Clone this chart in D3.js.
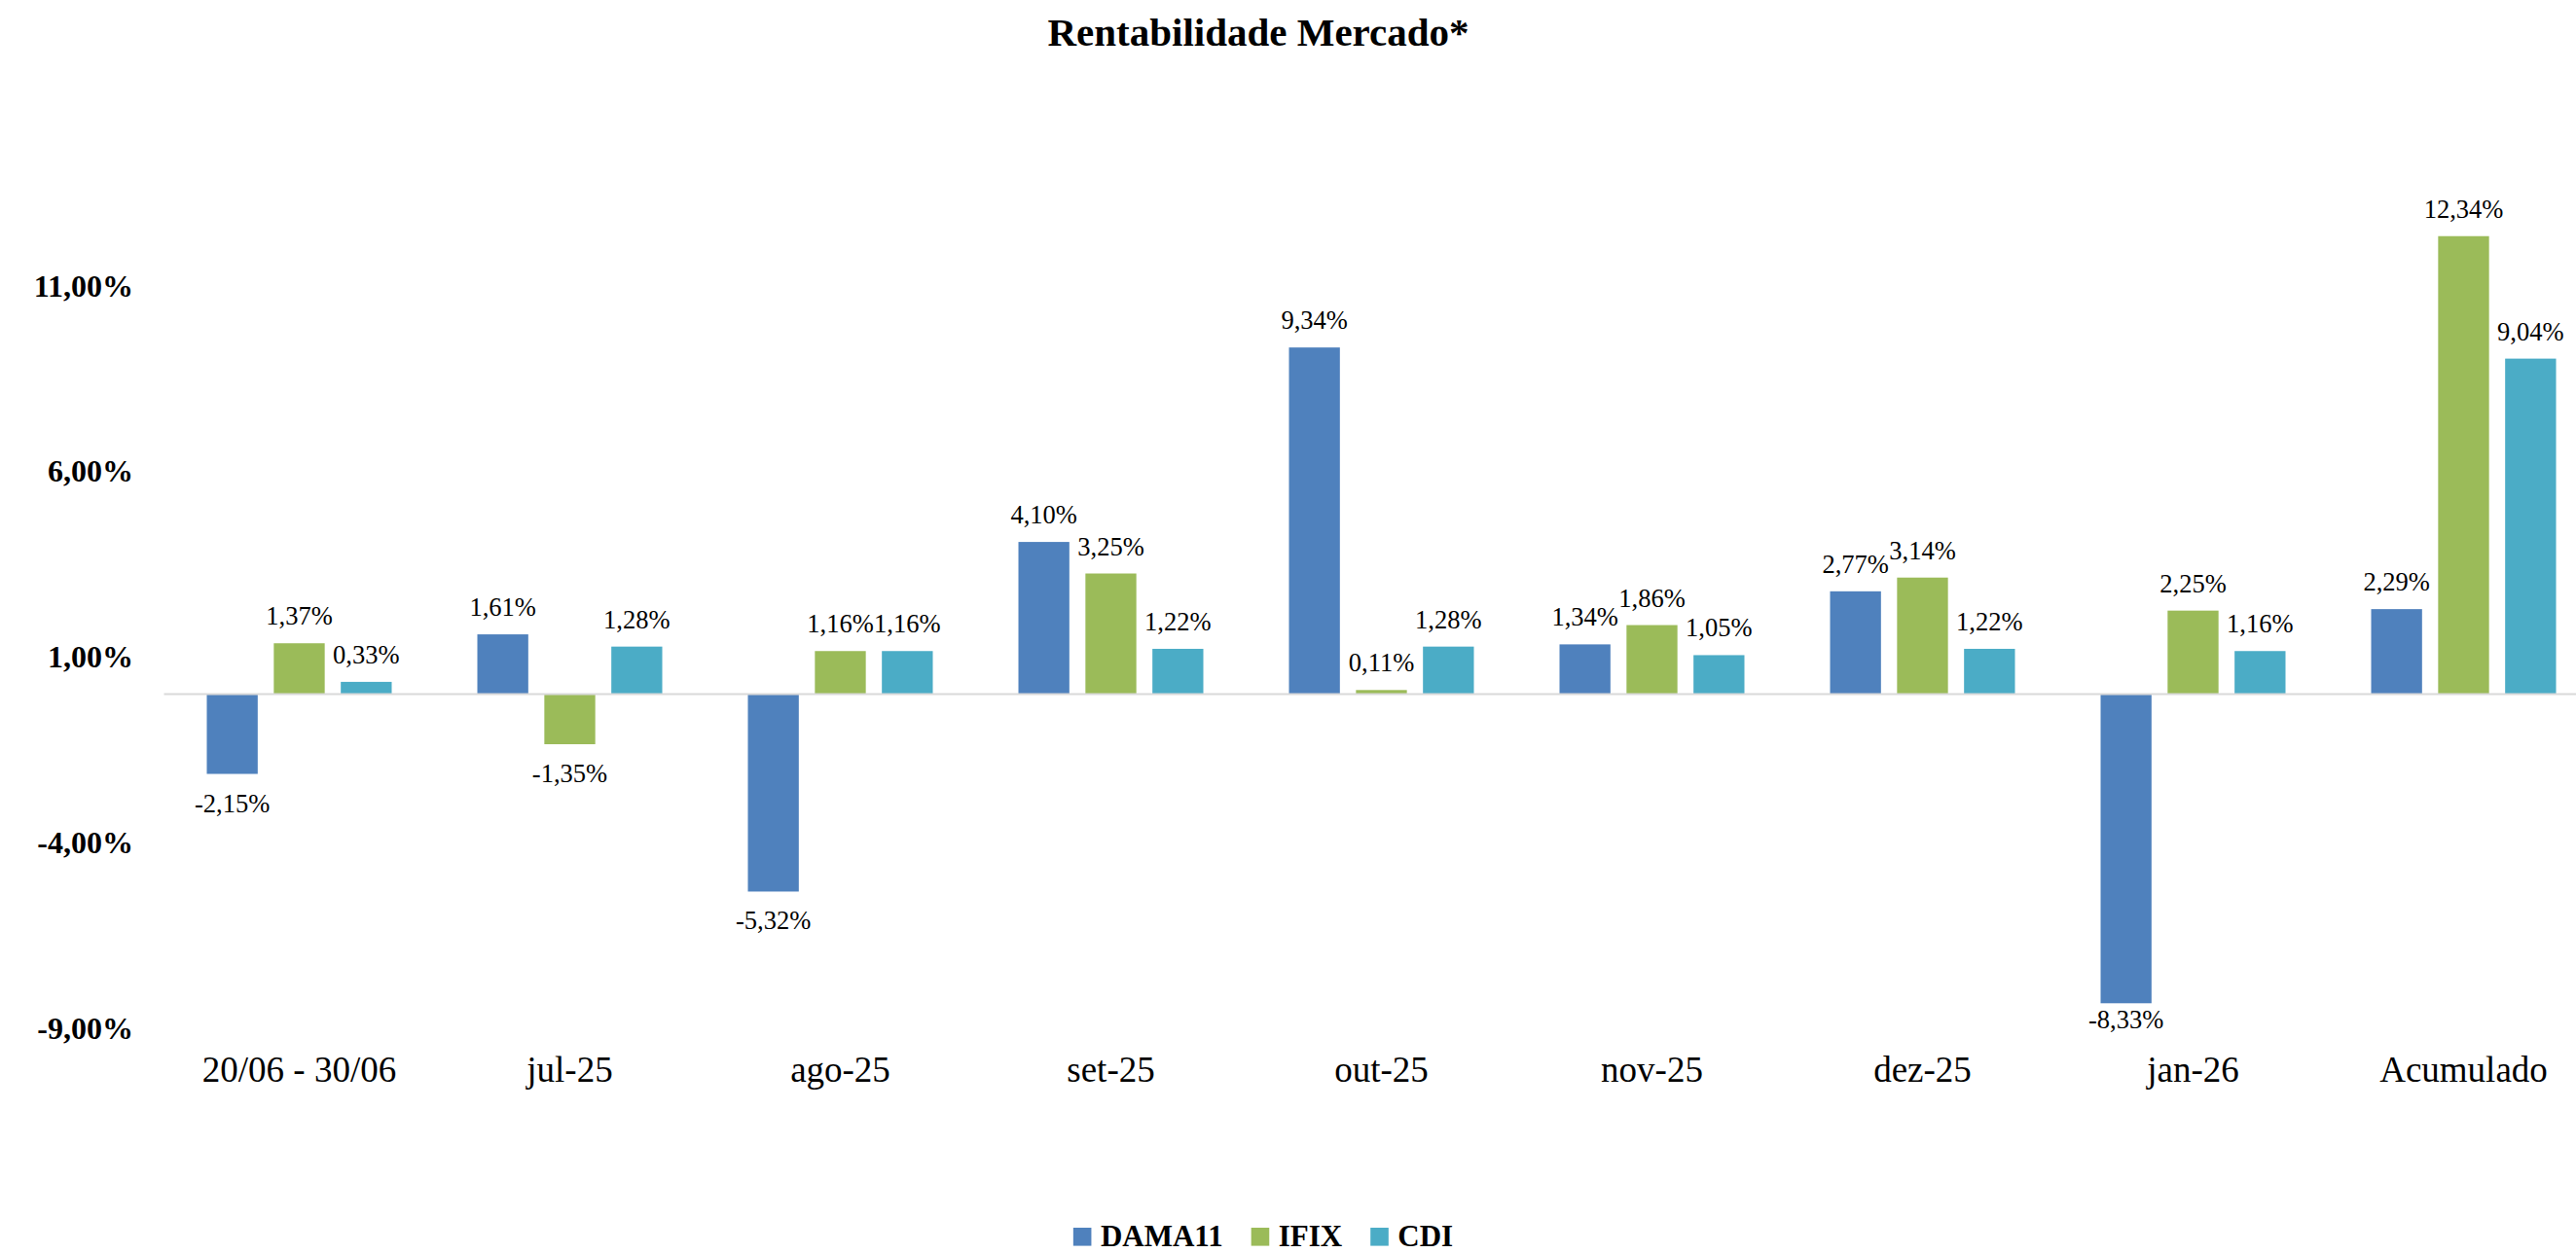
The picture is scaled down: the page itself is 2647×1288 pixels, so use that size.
<!DOCTYPE html>
<html>
<head>
<meta charset="utf-8">
<script src="https://cdn.jsdelivr.net/npm/d3@7"></script>
<style>
  body { margin: 0; background: #fff; }
  svg { display: block; }
</style>
</head>
<body>
<div id="chart"></div>
<script>
// ==================== DATA ====================
const categories = ["20/06 - 30/06", "jul-25", "ago-25", "set-25", "out-25", "nov-25", "dez-25", "jan-26", "Acumulado"];
const seriesNames = ["DAMA11", "IFIX", "CDI"];
const dama11 = [-2.15, 1.61, -5.32, 4.10, 9.34, 1.34, 2.77, -8.33, 2.29];
const ifix = [1.37, -1.35, 1.16, 3.25, 0.11, 1.86, 3.14, 2.25, 12.34];
const cdi = [0.33, 1.28, 1.16, 1.22, 1.28, 1.05, 1.22, 1.16, 9.04];
const yTicks = [-9, -4, 1, 6, 11];
const colors = ["#4f81bd", "#9bbb59", "#4bacc6"];

// ==================== KONFIGURASI ====================
const width = 2647,
  height = 1288;
const zeroY = 713.5,
  pxPerPct = 38.15;
const fmt = (v) => v.toFixed(2).replace(".", ",") + "%";

const values = [dama11, ifix, cdi];
const rows = [];
categories.forEach((c, i) => {
  seriesNames.forEach((s, j) => rows.push({ cat: c, series: s, value: values[j][i] }));
});

const svg = d3
  .select("#chart")
  .append("svg")
  .attr("width", width)
  .attr("height", height)
  .style("background", "#fff");

// ==================== SKALA ====================
const x0 = d3.scaleBand().domain(categories).range([168.5, 2670.5]).padding(0);
const x1 = d3
  .scaleBand()
  .domain(seriesNames)
  .range([x0.bandwidth() / 2 - 95, x0.bandwidth() / 2 + 95])
  .paddingInner(0.24);
const y = d3
  .scaleLinear()
  .domain([-9, 11])
  .range([zeroY + 9 * pxPerPct, zeroY - 11 * pxPerPct]);
const color = d3.scaleOrdinal().domain(seriesNames).range(colors);

// ==================== JUDUL ====================
svg
  .append("text")
  .attr("x", 1293)
  .attr("y", 47)
  .attr("text-anchor", "middle")
  .style("font-family", "Liberation Serif, serif")
  .style("font-weight", "bold")
  .style("font-size", "41px")
  .attr("fill", "#000")
  .text("Rentabilidade Mercado*");

// ==================== SUMBU Y ====================
const yAxis = svg
  .append("g")
  .attr("transform", "translate(137,0)")
  .call(d3.axisLeft(y).tickValues(yTicks).tickSize(0).tickPadding(0).tickFormat((d) => fmt(d)));
yAxis.select(".domain").remove();
yAxis
  .selectAll("text")
  .style("font-family", "Liberation Serif, serif")
  .style("font-weight", "bold")
  .style("font-size", "32px")
  .attr("fill", "#000");

// ==================== BATANG ====================
svg
  .append("g")
  .selectAll("rect")
  .data(rows)
  .enter()
  .append("rect")
  .attr("x", (d) => x0(d.cat) + x1(d.series))
  .attr("width", x1.bandwidth())
  .attr("y", (d) => y(Math.max(0, d.value)))
  .attr("height", (d) => Math.abs(y(d.value) - y(0)))
  .attr("fill", (d) => color(d.series));

// garis nol
svg
  .append("line")
  .attr("x1", x0.range()[0])
  .attr("x2", width)
  .attr("y1", y(0))
  .attr("y2", y(0))
  .attr("stroke", "#d9d9d9")
  .attr("stroke-width", 2);

// label nilai
svg
  .append("g")
  .selectAll("text")
  .data(rows)
  .enter()
  .append("text")
  .attr("x", (d) => x0(d.cat) + x1(d.series) + x1.bandwidth() / 2)
  .attr("y", (d) => (d.value >= 0 ? y(d.value) - 19 : Math.min(y(d.value) + 39, y(-9))))
  .attr("text-anchor", "middle")
  .style("font-family", "Liberation Serif, serif")
  .style("font-size", "26.5px")
  .attr("fill", "#000")
  .text((d) => fmt(d.value));

// ==================== SUMBU X ====================
const xAxis = svg
  .append("g")
  .attr("transform", "translate(0,1112)")
  .call(d3.axisBottom(x0).tickSize(0).tickPadding(0));
xAxis.select(".domain").remove();
xAxis
  .selectAll("text")
  .attr("dy", 0)
  .style("font-family", "Liberation Serif, serif")
  .style("font-size", "37px")
  .attr("fill", "#000");

// ==================== LEGENDA ====================
const legend = svg.append("g");
const box = 18.6,
  gapText = 9.5,
  gapItem = 29;
let lx = 0;
seriesNames.forEach((s) => {
  const item = legend.append("g").attr("transform", `translate(${lx},0)`);
  item
    .append("rect")
    .attr("x", 0)
    .attr("y", 1262)
    .attr("width", box)
    .attr("height", box)
    .attr("fill", color(s));
  const t = item
    .append("text")
    .attr("x", box + gapText)
    .attr("y", 1281)
    .style("font-family", "Liberation Serif, serif")
    .style("font-weight", "bold")
    .style("font-size", "31px")
    .attr("fill", "#000")
    .text(s);
  lx += box + gapText + t.node().getComputedTextLength() + gapItem;
});
const legendW = lx - gapItem;
legend.attr("transform", `translate(${1298 - legendW / 2},0)`);
</script>
</body>
</html>
